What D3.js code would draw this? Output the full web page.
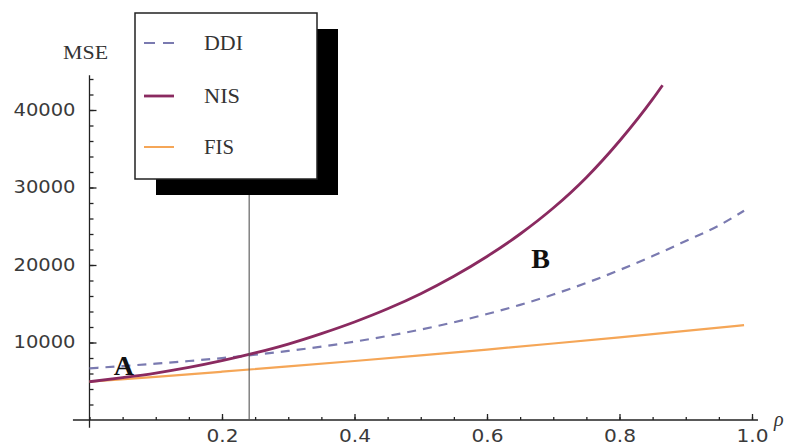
<!DOCTYPE html>
<html>
<head>
<meta charset="utf-8">
<script src="https://cdn.jsdelivr.net/npm/d3@7"></script>
<style>
  html, body { margin: 0; padding: 0; background: #fff; }
  svg { display: block; }
</style>
</head>
<body>
<svg id="chart" width="787" height="448"></svg>
<script>
// ---- data ----
const nisRho = [0, 0.05, 0.1, 0.15, 0.2, 0.25, 0.3, 0.35, 0.4, 0.45, 0.5, 0.55, 0.6, 0.65, 0.7, 0.75, 0.8, 0.85, 0.865];
const nisMSE = [4940, 5470, 6060, 6780, 7650, 8650, 9800, 11150, 12650, 14350, 16300, 18550, 21100, 24000, 27350, 31300, 36000, 41400, 43200];

const ddiRho = [0, 0.05, 0.1, 0.15, 0.2, 0.25, 0.3, 0.35, 0.4, 0.45, 0.5, 0.55, 0.6, 0.65, 0.7, 0.75, 0.8, 0.85, 0.9, 0.95, 0.988];
const ddiMSE = [6670, 6960, 7270, 7610, 7990, 8420, 8910, 9470, 10110, 10840, 11670, 12610, 13670, 14860, 16190, 17680, 19350, 21150, 23100, 25100, 27000];

const fisRho = [0, 0.1, 0.2, 0.3, 0.4, 0.5, 0.6, 0.7, 0.8, 0.9, 0.988];
const fisMSE = [4940, 5570, 6230, 6910, 7610, 8340, 9090, 9870, 10670, 11490, 12250];

const xTicks = [0.2, 0.4, 0.6, 0.8, 1.0];
const xTickLabels = ["0.2", "0.4", "0.6", "0.8", "1.0"];
const yTicks = [10000, 20000, 30000, 40000];
const yTickLabels = ["10000", "20000", "30000", "40000"];

const legendNames = ["DDI", "NIS", "FIS"];
const markerRho = 0.241;
const annotNames = ["A", "B"];
const annotRho = [0.052, 0.681];
const annotMSE = [5800, 19600];

// ---- layout ----
const svg = d3.select("#chart");
const x = d3.scaleLinear().domain([0, 1]).range([89.5, 752]);
const y = d3.scaleLinear().domain([0, 40000]).range([420, 110]);

const colDDI = "#7a7ab0";
const colNIS = "#8a2a60";
const colFIS = "#f5a657";
const axisCol = "#222";

// axes lines
svg.append("line").attr("x1", x(-0.025)).attr("x2", x(1.009))
  .attr("y1", y(0)).attr("y2", y(0)).attr("stroke", axisCol).attr("stroke-width", 1.3);
svg.append("line").attr("x1", x(0)).attr("x2", x(0))
  .attr("y1", y(-1000)).attr("y2", y(44500)).attr("stroke", axisCol).attr("stroke-width", 1.3);

// x axis ticks
const xAxisMinor = d3.axisBottom(x).tickValues(d3.range(0, 1.0001, 0.05)).tickSizeInner(-3).tickSizeOuter(0).tickFormat("");
svg.append("g").attr("transform", `translate(0,${y(0)})`).call(xAxisMinor)
  .call(g => g.select(".domain").remove())
  .call(g => g.selectAll("line").attr("stroke", axisCol).attr("stroke-width", 1.3));
const xAxis = d3.axisBottom(x).tickValues(xTicks).tickSizeInner(-6).tickSizeOuter(0).tickPadding(10)
  .tickFormat((d, i) => xTickLabels[i]);
svg.append("g").attr("transform", `translate(0,${y(0)})`).call(xAxis)
  .call(g => g.select(".domain").remove())
  .call(g => g.selectAll("line").attr("stroke", axisCol).attr("stroke-width", 1.3))
  .call(g => g.selectAll("text").attr("font-family", "DejaVu Sans").attr("font-size", 17)
     .attr("fill", "#3a3a3a").attr("textLength", 32).attr("lengthAdjust", "spacingAndGlyphs"));

// y axis ticks
const yAxisMinor = d3.axisLeft(y).tickValues(d3.range(2000, 44001, 2000)).tickSizeInner(-4).tickSizeOuter(0).tickFormat("");
svg.append("g").attr("transform", `translate(${x(0)},0)`).call(yAxisMinor)
  .call(g => g.select(".domain").remove())
  .call(g => g.selectAll("line").attr("stroke", axisCol).attr("stroke-width", 1.3));
const yAxis = d3.axisLeft(y).tickValues(yTicks).tickSizeInner(-7).tickSizeOuter(0).tickPadding(14)
  .tickFormat((d, i) => yTickLabels[i]);
svg.append("g").attr("transform", `translate(${x(0)},0)`).call(yAxis)
  .call(g => g.select(".domain").remove())
  .call(g => g.selectAll("line").attr("stroke", axisCol).attr("stroke-width", 1.3))
  .call(g => g.selectAll("text").attr("font-family", "DejaVu Sans").attr("font-size", 17)
     .attr("fill", "#3a3a3a").attr("textLength", 62).attr("lengthAdjust", "spacingAndGlyphs"));

// axis labels
svg.append("text").attr("x", 63).attr("y", 59).text("MSE")
  .attr("font-family", "Liberation Serif").attr("font-size", 18).attr("fill", "#333")
  .attr("textLength", 45).attr("lengthAdjust", "spacingAndGlyphs");
svg.append("text").attr("x", 774).attr("y", 426).text("ρ")
  .attr("font-family", "Liberation Serif").attr("font-style", "italic").attr("font-size", 20).attr("fill", "#333");

// curves
const line = d3.line().x(d => x(d[0])).y(d => y(d[1])).curve(d3.curveMonotoneX);
svg.append("path").datum(fisRho.map((r, i) => [r, fisMSE[i]])).attr("d", line)
  .attr("fill", "none").attr("stroke", colFIS).attr("stroke-width", 2.2);
svg.append("path").datum(ddiRho.map((r, i) => [r, ddiMSE[i]])).attr("d", line)
  .attr("fill", "none").attr("stroke", colDDI).attr("stroke-width", 2.2).attr("stroke-dasharray", "9,7");
svg.append("path").datum(nisRho.map((r, i) => [r, nisMSE[i]])).attr("d", line)
  .attr("fill", "none").attr("stroke", colNIS).attr("stroke-width", 2.8);

// marker vertical line
svg.append("line").attr("x1", x(markerRho)).attr("x2", x(markerRho))
  .attr("y1", 179).attr("y2", y(0)).attr("stroke", "#555").attr("stroke-width", 1.1);

// annotations
svg.selectAll("text.annot").data(annotNames).enter().append("text").attr("class", "annot")
  .attr("x", (d, i) => x(annotRho[i])).attr("y", (d, i) => y(annotMSE[i]))
  .attr("text-anchor", "middle").text(d => d)
  .attr("font-family", "Liberation Serif").attr("font-weight", "bold").attr("font-size", 28).attr("fill", "#111");

// legend
const lg = svg.append("g");
lg.append("rect").attr("x", 156).attr("y", 29).attr("width", 182).attr("height", 166).attr("fill", "#000");
lg.append("rect").attr("x", 135).attr("y", 13).attr("width", 182).attr("height", 166)
  .attr("fill", "#fff").attr("stroke", "#222").attr("stroke-width", 1.5);
const legendY = [43, 96, 147];
const legendCol = [colDDI, colNIS, colFIS];
const legendDash = ["11,8", null, null];
const legendW = [2, 2.8, 2];
const legendTL = [39, 36, 30];
legendNames.forEach((name, i) => {
  lg.append("line").attr("x1", 144).attr("x2", 174).attr("y1", legendY[i]).attr("y2", legendY[i])
    .attr("stroke", legendCol[i]).attr("stroke-width", legendW[i])
    .attr("stroke-dasharray", legendDash[i]);
  lg.append("text").attr("x", 204).attr("y", legendY[i] + 7).text(name)
    .attr("font-family", "Liberation Serif").attr("font-size", 20).attr("fill", "#333")
    .attr("textLength", legendTL[i]).attr("lengthAdjust", "spacingAndGlyphs");
});
</script>
</body>
</html>
